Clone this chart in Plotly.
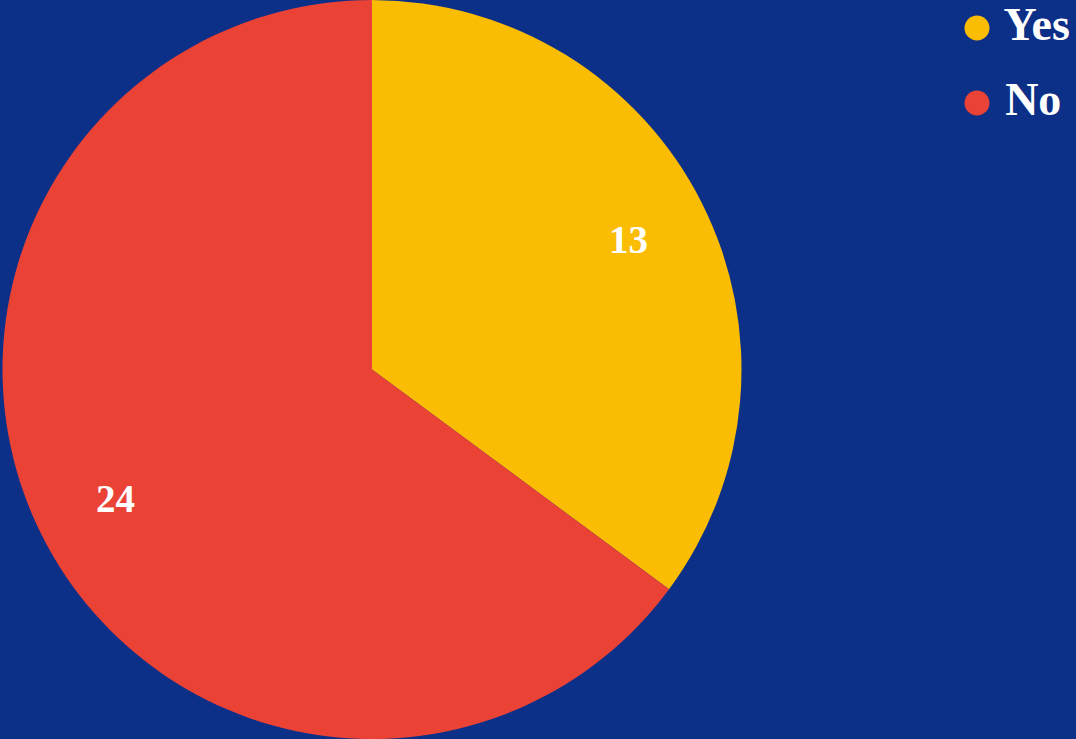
import numpy as np
import plotly.graph_objects as go

labels = ["Yes", "No"]
values = [13, 24]
colors = ["#FBBC04", "#EA4335"]
bg = "#0c2f88"
font_family = "Liberation Serif"

W, H = 1076, 739
cx, cy, R = 372, 369, 370  # pie centre / radius in px (layout)

fig = go.Figure()
fig.add_trace(go.Pie(
    labels=labels, values=values, sort=False, direction="clockwise", rotation=0,
    marker=dict(colors=colors, line=dict(width=0)),
    textinfo="none",
    domain=dict(x=[(cx - R) / W, (cx + R) / W], y=[0, 1]),
    showlegend=False, hoverinfo="label+value",
))

# value labels placed at 0.775 of the radius along each slice's mid-angle
vals = np.array(values, dtype=float)
cum = np.cumsum(vals) - vals / 2
mid = cum / vals.sum() * 2 * np.pi
for v, a in zip(values, mid):
    fig.add_annotation(
        x=(cx + 0.775 * R * np.sin(a)) / W,
        y=1 - (cy - 0.775 * R * np.cos(a)) / H,
        xref="paper", yref="paper", text=str(v), showarrow=False,
        xanchor="center", yanchor="middle",
        font=dict(family=font_family, size=39, color="white", weight="bold"),
    )

# legend drawn as a small scatter on hidden axes (circle markers + text)
fig.add_trace(go.Scatter(
    x=[0] * len(labels), y=labels, mode="markers+text",
    text=[" " + l for l in labels], textposition="middle right",
    marker=dict(color=colors, size=25, symbol="circle"),
    textfont=dict(family=font_family, size=46, color="white", weight="bold"),
    cliponaxis=False, showlegend=False, hoverinfo="skip",
))

fig.update_layout(
    width=W, height=H,
    margin=dict(l=0, r=0, t=0, b=0),
    paper_bgcolor=bg, plot_bgcolor="rgba(0,0,0,0)",
    xaxis=dict(visible=False, domain=[957 / W, 997 / W], range=[-1, 1], fixedrange=True),
    yaxis=dict(visible=False, type="category", domain=[1 - 118 / H, 1 - 13 / H],
               range=[1.2, -0.2], fixedrange=True),
    showlegend=False,
)
fig.write_html("out.html", config={"displayModeBar": False},
               post_script="document.body.style.margin='0';document.body.style.overflow='hidden';")
